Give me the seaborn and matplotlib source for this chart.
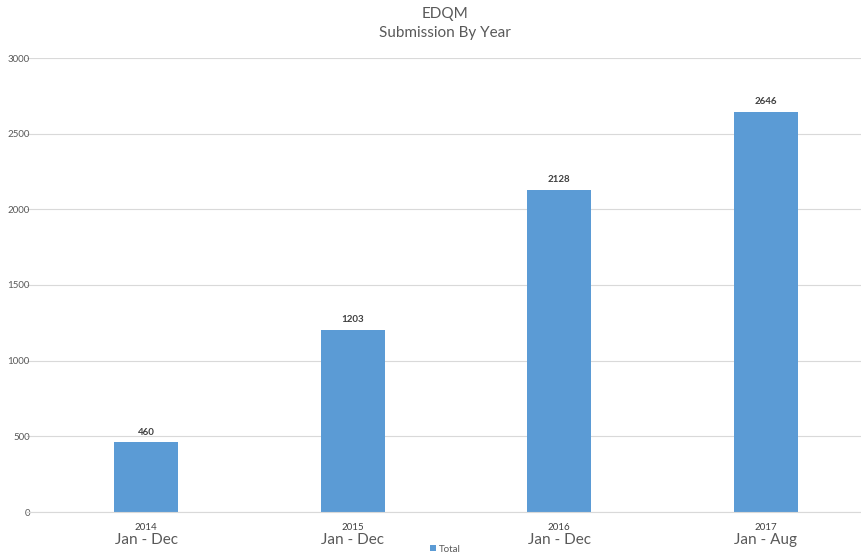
import matplotlib
matplotlib.use("Agg")
import matplotlib.pyplot as plt
import seaborn as sns
import pandas as pd

years = ["2014", "2015", "2016", "2017"]
periods = ["Jan - Dec", "Jan - Dec", "Jan - Dec", "Jan - Aug"]
totals = [460, 1203, 2128, 2646]

sns.set_style("white")
plt.rcParams["font.family"] = ["Lato", "DejaVu Sans"]

df = pd.DataFrame({"year": years, "total": totals})

fig = plt.figure(figsize=(8.61, 5.58), dpi=100)
ax = fig.add_axes([27 / 861, 46 / 558, 834 / 861, 454 / 558])

sns.barplot(data=df, x="year", y="total", color="#5B9BD5", width=0.31,
            saturation=1, linewidth=0, label="Total", ax=ax)

ax.bar_label(ax.containers[0], padding=4, fontsize=7, fontweight="bold", color="#404040")

ax.set_ylim(0, 3000)
ax.set_xlim(-0.576, 3.46)
ax.set_yticks(range(0, 3001, 500))
ax.yaxis.grid(True, color="#D9D9D9", linewidth=0.8)
ax.set_axisbelow(True)
for s in ax.spines.values():
    s.set_visible(False)
ax.spines["bottom"].set_visible(True)
ax.spines["bottom"].set_color("#D9D9D9")
ax.tick_params(axis="both", length=0, labelsize=7, colors="#595959", pad=8)
ax.tick_params(axis="y", pad=-2)
for lab in ax.get_xticklabels():
    lab.set_color("#404040")
ax.set_xlabel("")
ax.set_ylabel("")

for i, p in enumerate(periods):
    ax.text(i, -0.062, p, transform=ax.get_xaxis_transform(), ha="center",
            va="center", fontsize=11, color="#595959")

fig.text(0.517, 0.975, "EDQM", ha="center", va="center", fontsize=11, color="#595959")
fig.text(0.517, 0.940, "Submission By Year", ha="center", va="center", fontsize=11, color="#595959")

ax.legend(loc="center", bbox_to_anchor=(0.517, 0.016), bbox_transform=fig.transFigure,
          frameon=False, fontsize=7, handlelength=0.6, handleheight=0.6,
          handletextpad=0.3, borderpad=0, labelcolor="#595959")

fig.savefig("out.png", dpi=100)
